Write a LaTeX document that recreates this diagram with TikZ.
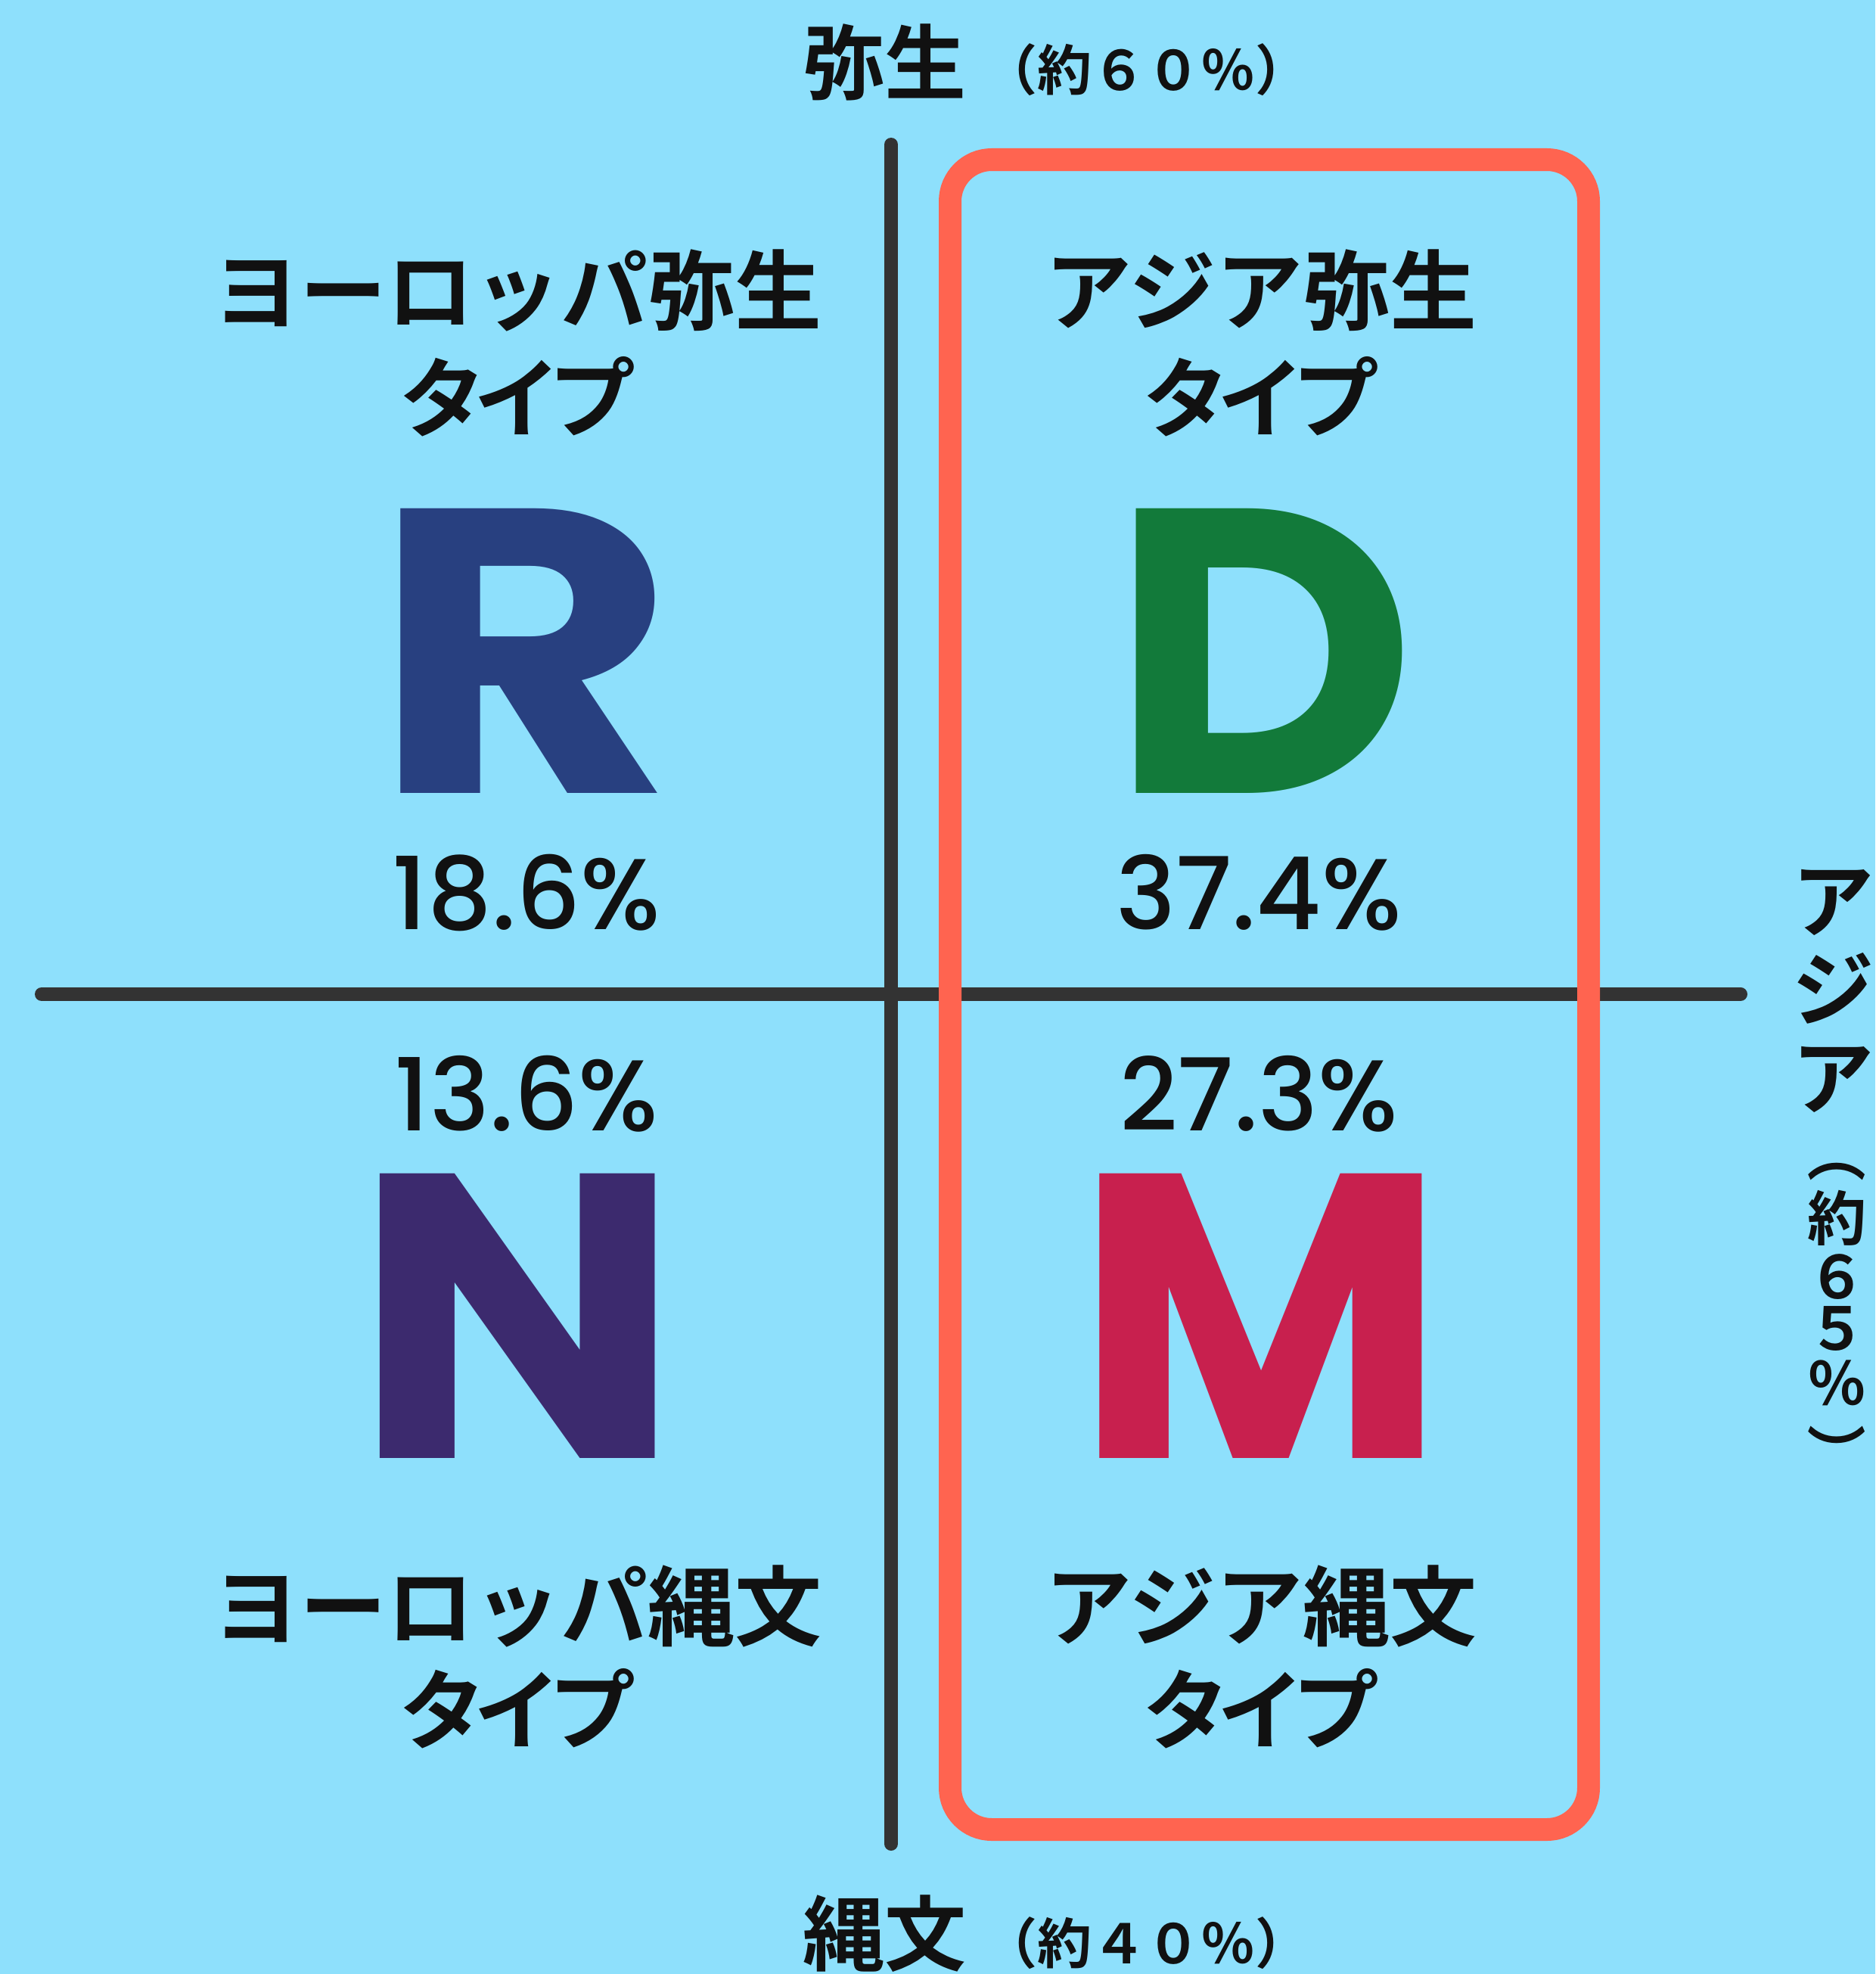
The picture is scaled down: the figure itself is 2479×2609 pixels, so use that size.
\documentclass[tikz,border=0pt]{standalone}
\usepackage{fontspec}
\newfontfamily\jp{Noto Sans CJK JP Bold}
\newfontfamily\lat{Poppins}
\newfontfamily\latm{Poppins Medium}
\definecolor{bg}{RGB}{142,224,252}
\definecolor{axis}{RGB}{51,51,51}
\definecolor{boxred}{RGB}{255,100,80}
\definecolor{cR}{RGB}{40,64,128}
\definecolor{cD}{RGB}{18,122,58}
\definecolor{cN}{RGB}{60,42,110}
\definecolor{cM}{RGB}{200,32,78}
\definecolor{ink}{RGB}{17,17,17}
\newcommand{\tightkana}{タ\hspace{-16pt}イ\hspace{-16pt}プ}
\begin{document}
\begin{tikzpicture}[x=1pt,y=-1pt,
  axisline/.style={draw=axis,line width=18pt,line cap=round},
  redbox/.style={draw=boxred,line width=30pt,rounded corners=55pt},
  typelabel/.style={text=ink,font=\jp\fontsize{115}{124}\selectfont,inner sep=0pt,align=center},
  bigletter/.style={font=\lat\bfseries\fontsize{536}{536}\selectfont,inner sep=0pt,anchor=base},
  pct/.style={text=ink,font=\latm\fontsize{133}{133}\selectfont,inner sep=0pt,anchor=base},
  axislabel/.style={text=ink,font=\jp\fontsize{108}{110}\selectfont,inner sep=0pt},
  axissub/.style={text=ink,font=\jp\fontsize{72}{76}\selectfont,inner sep=0pt},
  vchar/.style={text=ink,font=\jp\fontsize{78}{78}\selectfont,inner sep=0pt},
]
\fill[bg] (0,0) rectangle (2479,2609);
\useasboundingbox (0,0) rectangle (2479,2609);
% axes
\coordinate (vt) at (1178,191);
\coordinate (vb) at (1178,2437);
\coordinate (hl) at (55,1314);
\coordinate (hr) at (2301,1314);
\draw[axisline] (vt) -- (vb);
\draw[axisline] (hl) -- (hr);
% red box
\coordinate (btl) at (1256,211);
\coordinate (bbr) at (2100,2418);
\draw[redbox] (btl) rectangle (bbr);
% axis labels
\node[axislabel] (yayoi) at (1169,82) {弥生};
\node[axissub] (yayoisub) at (1515,92) {（約６０％）};
\node[axislabel] (jomon) at (1169,2556) {縄文};
\node[axissub] (jomonsub) at (1515,2568) {（約４０％）};
\node[axislabel,align=center,font=\jp\fontsize{108}{117}\selectfont] (asia) at (2423,1310) {ア\\ジ\\ア};
\node[vchar,rotate=-90] (vp1) at (2428,1524) {（};
\node[vchar] (vyaku) at (2428,1610) {約};
\node[vchar] (v6) at (2428,1688) {６};
\node[vchar] (v5) at (2428,1756) {５};
\node[vchar] (vpc) at (2428,1828) {％};
\node[vchar,rotate=-90] (vp2) at (2428,1920) {）};
% quadrant labels
\node[typelabel] (eyl) at (684,384) {ヨーロッパ弥生};
\node[typelabel] (eyt) at (684,524) {\tightkana};
\node[typelabel] (ayl) at (1667,384) {アジア弥生};
\node[typelabel] (ayt) at (1667,524) {\tightkana};
\node[typelabel] (ejl) at (684,2123) {ヨーロッパ縄文};
\node[typelabel] (ejt) at (684,2258) {\tightkana};
\node[typelabel] (ajl) at (1667,2123) {アジア縄文};
\node[typelabel] (ajt) at (1667,2258) {\tightkana};
% letters
\node[bigletter,text=cR] (R) at (692,1048) {\scalebox{1.15}[1]{R}};
\node[bigletter,text=cD] (D) at (1670,1048) {\scalebox{1.04}[1]{D}};
\node[bigletter,text=cN] (N) at (684,1927) {\scalebox{1.08}[1]{N}};
\node[bigletter,text=cM] (M) at (1667,1927) {M};
% percentages
\node[pct] (pR) at (696,1228) {18.6\%};
\node[pct] (pD) at (1664,1228) {37.4\%};
\node[pct] (pN) at (696,1494) {13.6\%};
\node[pct] (pM) at (1664,1494) {27.3\%};
\end{tikzpicture}
\end{document}
